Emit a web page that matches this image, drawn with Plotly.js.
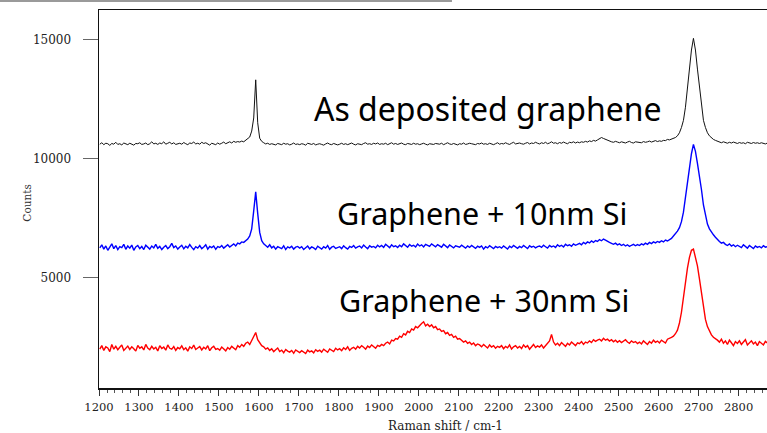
<!DOCTYPE html>
<html>
<head>
<meta charset="utf-8">
<script src="https://cdn.plot.ly/plotly-3.0.1.min.js"></script>
<style>
  html, body { margin: 0; padding: 0; background: #fff; }
  #chart { width: 767px; height: 433px; }
</style>
</head>
<body>
<div id="chart"></div>
<script>
// Raman spectra sampled on a uniform grid: first point and step in cm-1
const shiftStart = 1202;
const shiftStep = 5;

// As deposited graphene (counts)
const asDeposited = [
  10600,10660,10580,10640,10620,10550,10630,10600,10680,10590,
  10620,10570,10650,10610,10580,10640,10600,10560,10630,10620,
  10660,10590,10610,10650,10580,10620,10700,10610,10640,10590,
  10650,10620,10700,10600,10640,10680,10610,10660,10590,10630,
  10640,10600,10670,10620,10580,10650,10630,10690,10610,10640,
  10600,10680,10630,10660,10610,10560,10640,10620,10580,10650,
  10600,10640,10690,10620,10660,10700,10650,10720,10680,10710,
  10690,10730,10700,10780,10820,10900,11150,11700,13300,11500,
  10850,10720,10660,10610,10640,10590,10620,10600,10570,10630,
  10610,10580,10640,10600,10620,10570,10600,10650,10590,10610,
  10580,10620,10600,10560,10640,10610,10590,10630,10570,10600,
  10620,10590,10560,10610,10650,10600,10580,10630,10610,10570,
  10600,10640,10590,10620,10580,10610,10650,10600,10570,10620,
  10610,10580,10630,10660,10600,10620,10590,10640,10610,10650,
  10590,10620,10600,10640,10580,10610,10660,10600,10630,10590,
  10620,10650,10600,10580,10630,10610,10590,10640,10600,10620,
  10580,10610,10640,10600,10570,10620,10600,10590,10630,10610,
  10600,10640,10580,10620,10660,10610,10590,10630,10600,10570,
  10620,10600,10650,10590,10610,10640,10620,10600,10580,10630,
  10610,10650,10600,10620,10590,10640,10610,10580,10620,10660,
  10600,10630,10610,10660,10620,10590,10640,10680,10610,10630,
  10650,10620,10600,10640,10670,10610,10650,10630,10680,10640,
  10610,10660,10630,10680,10620,10650,10700,10640,10660,10620,
  10670,10640,10690,10650,10620,10680,10660,10700,10650,10690,
  10660,10700,10680,10720,10690,10740,10710,10760,10730,10780,
  10820,10880,10840,10800,10760,10730,10700,10680,10720,10690,
  10660,10700,10680,10650,10690,10720,10670,10650,10700,10680,
  10690,10660,10710,10680,10700,10730,10690,10720,10750,10710,
  10740,10720,10760,10750,10800,10780,10810,10830,10880,10950,
  11080,11300,11600,12150,12950,13750,14550,15040,14550,13750,
  12950,12150,11600,11300,11080,10950,10870,10800,10760,10720,
  10690,10660,10700,10670,10640,10680,10650,10690,10660,10630,
  10670,10640,10660,10620,10680,10650,10630,10670,10640,10660,
  10630,10660,10640,10610,10650
];

// Graphene + 10nm Si (counts)
const si10nm = [
  6250,6380,6200,6330,6150,6300,6420,6220,6350,6180,
  6300,6260,6400,6190,6330,6240,6370,6150,6290,6350,
  6220,6310,6180,6360,6270,6200,6330,6250,6400,6230,
  6310,6180,6280,6350,6220,6300,6440,6260,6330,6200,
  6290,6360,6210,6320,6250,6390,6270,6180,6300,6240,
  6350,6220,6290,6380,6200,6310,6260,6330,6190,6300,
  6270,6350,6240,6310,6380,6290,6360,6420,6330,6450,
  6420,6500,6480,6560,6620,6750,7050,7800,8600,7700,
  6900,6550,6420,6350,6280,6380,6250,6320,6200,6300,
  6260,6220,6340,6180,6290,6250,6320,6200,6280,6310,
  6240,6300,6180,6270,6330,6210,6290,6250,6180,6320,
  6260,6200,6300,6240,6350,6190,6280,6320,6230,6270,
  6300,6220,6340,6260,6200,6310,6270,6350,6240,6290,
  6330,6250,6370,6290,6220,6340,6280,6310,6250,6360,
  6290,6350,6270,6400,6310,6260,6380,6300,6340,6270,
  6360,6300,6420,6330,6280,6390,6320,6360,6290,6410,
  6330,6380,6290,6400,6350,6310,6420,6340,6300,6390,
  6350,6280,6400,6330,6260,6370,6310,6250,6340,6300,
  6280,6360,6300,6240,6330,6270,6350,6290,6230,6320,
  6270,6330,6200,6300,6250,6340,6280,6220,6310,6260,
  6300,6240,6330,6270,6200,6320,6260,6350,6280,6230,
  6310,6260,6350,6290,6220,6340,6280,6320,6250,6300,
  6330,6270,6360,6300,6240,6350,6290,6330,6270,6380,
  6310,6360,6290,6400,6340,6380,6320,6420,6360,6400,
  6440,6380,6480,6420,6500,6460,6540,6480,6560,6520,
  6600,6550,6620,6580,6520,6480,6440,6400,6450,6380,
  6420,6350,6400,6330,6380,6310,6360,6400,6340,6390,
  6350,6420,6380,6450,6400,6480,6430,6500,6460,6520,
  6480,6550,6500,6580,6540,6600,6650,6750,6850,6950,
  7100,7350,7750,8400,9100,9700,10200,10590,10300,9800,
  9300,8700,8050,7600,7250,7050,6900,6800,6700,6600,
  6520,6450,6480,6400,6350,6420,6330,6380,6300,6360,
  6320,6260,6380,6300,6240,6350,6280,6220,6330,6270,
  6310,6250,6340,6280,6300
];

// Graphene + 30nm Si (counts)
const si30nm = [
  2000,2150,1950,2100,2050,1900,2200,2000,2120,1980,
  2080,2180,1950,2050,2130,1990,2100,2020,1920,2160,
  2040,2100,1970,2200,2050,1980,2120,2010,2080,1930,
  2150,2030,2090,1960,2180,2040,2000,2110,1950,2070,
  2020,2140,1980,2060,1920,2100,2030,2170,1990,2050,
  2110,1970,2080,2010,2150,1940,2060,2120,1990,2030,
  1960,2090,2020,1930,2070,2000,2120,2050,1980,2150,
  2080,2200,2120,2250,2300,2200,2350,2550,2700,2400,
  2250,2150,2100,2000,2050,1950,2020,1900,1980,2050,
  1900,1960,1850,1990,1920,1880,1950,1830,1970,1900,
  1860,1940,1880,1820,1960,1890,1930,1850,1980,1910,
  1960,1880,2000,1930,1870,2010,1950,1900,2040,1970,
  2020,1940,2060,1990,2100,1950,2040,2080,2000,2120,
  2050,2150,2080,2000,2130,2070,2180,2100,2040,2160,
  2120,2200,2150,2250,2300,2220,2380,2350,2450,2420,
  2550,2500,2650,2600,2750,2700,2850,2800,2950,2900,
  3000,3080,3150,2980,3050,2950,3020,2900,2950,2820,
  2850,2750,2780,2650,2700,2580,2620,2500,2550,2420,
  2450,2380,2300,2350,2250,2300,2200,2260,2150,2220,
  2180,2100,2200,2120,2050,2180,2090,2150,2040,2120,
  2080,2150,2020,2120,2060,2180,2010,2100,2150,2050,
  2120,2030,2180,2080,2150,2000,2110,2200,2070,2140,
  2090,2180,2050,2150,2220,2350,2620,2300,2180,2250,
  2150,2280,2200,2120,2250,2180,2300,2220,2150,2270,
  2230,2320,2200,2300,2260,2350,2280,2400,2330,2380,
  2420,2350,2460,2380,2420,2340,2400,2310,2380,2290,
  2360,2280,2330,2400,2300,2250,2350,2280,2320,2240,
  2300,2220,2350,2270,2200,2320,2250,2380,2290,2340,
  2260,2380,2300,2260,2420,2450,2500,2550,2650,2800,
  3100,3550,4200,4850,5400,5850,6150,6200,5900,5500,
  4950,4350,3750,3250,2950,2750,2600,2500,2450,2380,
  2300,2420,2250,2350,2200,2380,2270,2150,2320,2240,
  2350,2200,2300,2400,2180,2280,2350,2220,2300,2150,
  2320,2250,2180,2330,2260
];

const seriesNames = ['As deposited graphene', 'Graphene + 10nm Si', 'Graphene + 30nm Si'];
const seriesData = [asDeposited, si10nm, si30nm];
const seriesColors = ['#111111', '#0000ff', '#ff0000'];
const seriesWidths = [1, 1.4, 1.4];

// Label anchor points (cm-1, counts) and sizes for the sample names
const labelShift = [2172, 2159, 2162];
const labelCounts = [12100, 7700, 4060];
const labelSizes = [32, 30.5, 30.5];

const xTickVals = [1200,1300,1400,1500,1600,1700,1800,1900,2000,2100,2200,2300,2400,2500,2600,2700,2800];
const yTickVals = [5000, 10000, 15000];

const traces = seriesData.map((ys, i) => ({
  type: 'scatter',
  mode: 'lines',
  name: seriesNames[i],
  x0: shiftStart,
  dx: shiftStep,
  y: ys,
  line: { color: seriesColors[i], width: seriesWidths[i] },
  hoverinfo: 'x+y'
}));

const serif = 'DejaVu Serif, Liberation Serif, serif';

const annotations = seriesNames.map((t, i) => ({
  text: t,
  x: labelShift[i],
  y: labelCounts[i],
  xref: 'x',
  yref: 'y',
  showarrow: false,
  xanchor: 'center',
  yanchor: 'middle',
  font: { family: 'Noto Sans, Open Sans, sans-serif', size: labelSizes[i], color: '#000' }
}));

annotations.push({
  text: 'Counts',
  xref: 'paper', yref: 'paper',
  x: -0.108, y: 0.49,
  textangle: -90,
  showarrow: false,
  xanchor: 'center', yanchor: 'middle',
  font: { family: serif, size: 10.5, color: '#333' }
});
annotations.push({
  text: 'Raman shift / cm-1',
  xref: 'paper', yref: 'paper',
  x: 0.518, y: -0.1,
  showarrow: false,
  xanchor: 'center', yanchor: 'middle',
  font: { family: serif, size: 12, color: '#222' }
});

const layout = {
  width: 767,
  height: 433,
  margin: { l: 99, r: 0, t: 10, b: 45 },
  paper_bgcolor: '#ffffff',
  plot_bgcolor: '#ffffff',
  showlegend: false,
  xaxis: {
    range: [1200, 2871],
    showgrid: false,
    zeroline: false,
    showline: true,
    mirror: true,
    linecolor: '#111',
    linewidth: 1.5,
    tickmode: 'array',
    tickvals: xTickVals,
    ticktext: xTickVals.map(String),
    ticks: 'outside',
    ticklen: 6,
    tickwidth: 1,
    tickcolor: '#333',
    ticklabelstandoff: 2,
    minor: { dtick: 20, ticks: 'outside', ticklen: 3, tickwidth: 1, tickcolor: '#555' },
    tickfont: { family: serif, size: 11.5, color: '#222' }
  },
  yaxis: {
    range: [373, 16229],
    showgrid: false,
    zeroline: false,
    showline: true,
    linecolor: '#111',
    linewidth: 1.5,
    tickmode: 'array',
    tickvals: yTickVals,
    ticktext: yTickVals.map(String),
    ticks: 'outside',
    ticklen: 15,
    tickwidth: 1.5,
    tickcolor: '#666',
    ticklabelstandoff: 9,
    tickfont: { family: serif, size: 12, color: '#222' }
  },
  annotations: annotations,
  shapes: [{
    type: 'rect',
    xref: 'paper', yref: 'paper',
    x0: -0.1482, x1: 0.5284,
    y0: 1.021, y1: 1.0265,
    fillcolor: '#9a9a9a',
    line: { width: 0 }
  }]
};

Plotly.newPlot('chart', traces, layout, { displayModeBar: false, staticPlot: true });
</script>
</body>
</html>
